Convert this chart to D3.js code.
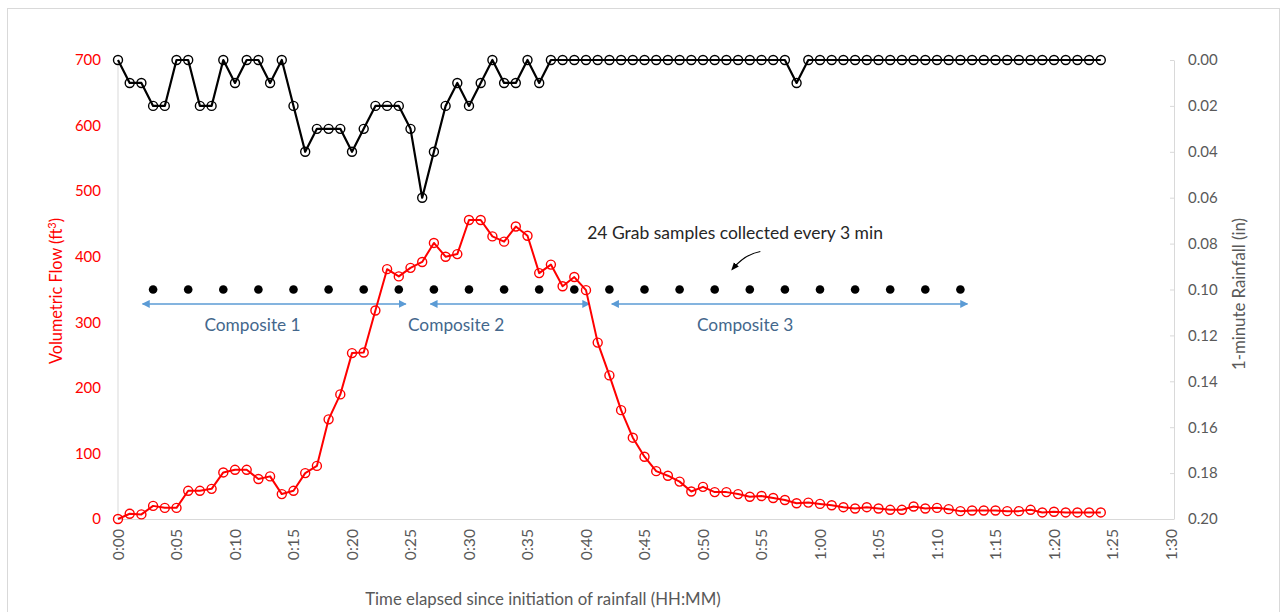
<!DOCTYPE html>
<html><head><meta charset="utf-8">
<script src="https://cdn.jsdelivr.net/npm/d3@7"></script>
<style>body{margin:0;background:#fff} text{font-family:Lato,"Open Sans",sans-serif}</style>
</head><body><svg id="c" width="1286" height="612"></svg>
<script>
// ---- data ----
const minutes = [0,1,2,3,4,5,6,7,8,9,10,11,12,13,14,15,16,17,18,19,20,21,22,23,24,25,26,27,28,29,30,31,32,33,34,35,36,37,38,39,40,41,42,43,44,45,46,47,48,49,50,51,52,53,54,55,56,57,58,59,60,61,62,63,64,65,66,67,68,69,70,71,72,73,74,75,76,77,78,79,80,81,82,83,84];
const flow = [0,8,7,20,17,17,43,43,46,71,75,75,61,65,38,43,70,81,152,190,253,254,318,381,370,383,392,421,400,404,456,456,431,423,446,432,375,388,355,369,349,269,219,166,124,95,73,66,57,42,49,41,41,38,34,35,32,29,24,25,23,21,18,16,18,16,14,14,19,16,17,15,12,13,13,13,12,12,14,10,11,10,10,10,10];
const rainfall = [0,0.01,0.01,0.02,0.02,0,0,0.02,0.02,0,0.01,0,0,0.01,0,0.02,0.04,0.03,0.03,0.03,0.04,0.03,0.02,0.02,0.02,0.03,0.06,0.04,0.02,0.01,0.02,0.01,0,0.01,0.01,0,0.01,0,0,0,0,0,0,0,0,0,0,0,0,0,0,0,0,0,0,0,0,0,0.01,0,0,0,0,0,0,0,0,0,0,0,0,0,0,0,0,0,0,0,0,0,0,0,0,0,0];
const sampleTimes = [3,6,9,12,15,18,21,24,27,30,33,36,39,42,45,48,51,54,57,60,63,66,69,72];
const sampleFlow = [350,350,350,350,350,350,350,350,350,350,350,350,350,350,350,350,350,350,350,350,350,350,350,350];
const compositeNames = ["Composite 1","Composite 2","Composite 3"];
const compositeStart = [2.1,26.7,42.2];
const compositeEnd = [24.6,40.3,72.6];
const compositeLabelAt = [11.5,28.9,53.6];
const compositeFlow = 328;
const compositeLabelFlow = 296;
const xTicks = [0,5,10,15,20,25,30,35,40,45,50,55,60,65,70,75,80,85,90];
const flowTicks = [0,100,200,300,400,500,600,700];
const rainTicks = [0,0.02,0.04,0.06,0.08,0.10,0.12,0.14,0.16,0.18,0.20];
const annotation = "24 Grab samples collected every 3 min";

// ---- layout ----
const L = 118, R = 1174, T = 60, B = 519;
const svg = d3.select("#c");
svg.append("rect").attr("x",7.5).attr("y",8.5).attr("width",1272).attr("height",620)
  .attr("fill","#fff").attr("stroke","#D9D9D9");

const x = d3.scaleLinear().domain([0,90]).range([L,1171]);
const yF = d3.scaleLinear().domain([0,700]).range([B,T]);
const yR = d3.scaleLinear().domain([0,0.2]).range([T,B]);
const fmt = m => `${Math.floor(m/60)}:${String(m%60).padStart(2,"0")}`;

// axes lines
svg.append("line").attr("x1",L).attr("x2",L).attr("y1",T).attr("y2",B).attr("stroke","#D9D9D9");
svg.append("line").attr("x1",L).attr("x2",R).attr("y1",B+0.5).attr("y2",B+0.5).attr("stroke","#D9D9D9");

// left axis labels
const gL = svg.append("g").attr("transform",`translate(${L},0)`)
  .call(d3.axisLeft(yF).tickValues(flowTicks).tickSize(0).tickPadding(17));
gL.select(".domain").remove();
gL.selectAll("text").attr("fill","#FF0000").style("font-size","15px").style("font-family","Lato");

// right axis
const gR = svg.append("g").attr("transform",`translate(${R},0)`)
  .call(d3.axisRight(yR).tickValues(rainTicks).tickSize(0).tickPadding(14).tickFormat(d3.format(".2f")));
gR.select(".domain").attr("stroke","#D9D9D9");
gR.selectAll(".tick line").remove();
gR.selectAll(".tick").append("line").attr("x1",-4).attr("x2",0).attr("stroke","#D9D9D9");
gR.selectAll("text").attr("fill","#595959").style("font-size","15px").style("font-family","Lato");

// bottom axis labels (rotated)
svg.append("g").selectAll("text").data(xTicks).join("text")
  .attr("transform",d=>`translate(${x(d)},529) rotate(-90)`)
  .attr("text-anchor","end").attr("dy","0.35em")
  .attr("fill","#595959").style("font-size","15.7px").text(fmt);

// axis titles
svg.append("text").attr("transform","translate(62,291) rotate(-90)").attr("text-anchor","middle")
  .attr("fill","#FF0000").style("font-size","16.3px")
  .html('Volumetric Flow (ft<tspan dy="-6" font-size="11px">3</tspan><tspan dy="6">)</tspan>');
svg.append("text").attr("transform","translate(1245,294) rotate(-90)").attr("text-anchor","middle")
  .attr("fill","#595959").style("font-size","16.8px").text("1-minute Rainfall (in)");
svg.append("text").attr("x",543).attr("y",605).attr("text-anchor","middle")
  .attr("fill","#595959").style("font-size","16.8px").text("Time elapsed since initiation of rainfall (HH:MM)");

// composite arrows
const defs = svg.append("defs");
defs.append("marker").attr("id","ah").attr("viewBox","0 0 10 10").attr("refX",9).attr("refY",5)
  .attr("markerWidth",8).attr("markerHeight",8).attr("markerUnits","userSpaceOnUse").attr("orient","auto-start-reverse")
  .append("path").attr("d","M0,0L10,5L0,10z").attr("fill","#5B9BD5");
defs.append("marker").attr("id","ak").attr("viewBox","0 0 10 10").attr("refX",8).attr("refY",5)
  .attr("markerWidth",8).attr("markerHeight",8).attr("markerUnits","userSpaceOnUse").attr("orient","auto")
  .append("path").attr("d","M0,1L10,5L0,9z").attr("fill","#000");
const comps = compositeNames.map((n,i)=>({n,s:compositeStart[i],e:compositeEnd[i],l:compositeLabelAt[i]}));
svg.append("g").selectAll("line").data(comps).join("line")
  .attr("x1",d=>x(d.s)).attr("x2",d=>x(d.e)).attr("y1",yF(compositeFlow)).attr("y2",yF(compositeFlow))
  .attr("stroke","#5B9BD5").attr("stroke-width",1.5)
  .attr("marker-start","url(#ah)").attr("marker-end","url(#ah)");
svg.append("g").selectAll("text").data(comps).join("text")
  .attr("x",d=>x(d.l)).attr("y",yF(compositeLabelFlow)).attr("text-anchor","middle").attr("dy","0.35em")
  .attr("fill","#44678C").style("font-size","17.3px").text(d=>d.n);

// rainfall series
svg.append("path").datum(minutes).attr("fill","none").attr("stroke","#000").attr("stroke-width",2.2)
  .attr("stroke-linejoin","round")
  .attr("d",d3.line().x(d=>x(d)).y((d,i)=>yR(rainfall[i])));
svg.append("g").selectAll("circle").data(minutes).join("circle")
  .attr("cx",d=>x(d)).attr("cy",(d,i)=>yR(rainfall[i])).attr("r",4.5)
  .attr("fill","none").attr("stroke","#000").attr("stroke-width",1.4);

// flow series
svg.append("path").datum(minutes).attr("fill","none").attr("stroke","#FF0000").attr("stroke-width",2)
  .attr("stroke-linejoin","round")
  .attr("d",d3.line().x(d=>x(d)).y((d,i)=>yF(flow[i])));
svg.append("g").selectAll("circle").data(minutes).join("circle")
  .attr("cx",d=>x(d)).attr("cy",(d,i)=>yF(flow[i])).attr("r",4.5)
  .attr("fill","none").attr("stroke","#FF0000").attr("stroke-width",1.4);

// grab samples
svg.append("g").selectAll("circle").data(sampleTimes).join("circle")
  .attr("cx",d=>x(d)).attr("cy",(d,i)=>yF(sampleFlow[i])).attr("r",4.3).attr("fill","#000");

// annotation
svg.append("text").attr("x",x(40.1)).attr("y",yF(437)).attr("dy","0.35em")
  .attr("fill","#262626").style("font-size","17.5px").text(annotation);
svg.append("path").attr("d",`M${x(54.9)},${yF(408)} Q${x(53.6)},${yF(404)} ${x(52.5)},${yF(381)}`)
  .attr("fill","none").attr("stroke","#000").attr("stroke-width",1.2).attr("marker-end","url(#ak)");
</script></body></html>
